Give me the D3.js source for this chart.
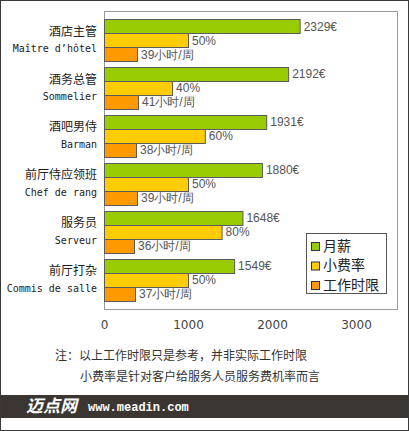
<!DOCTYPE html>
<html>
<head>
<meta charset="utf-8">
<script src="https://cdn.jsdelivr.net/npm/d3@7"></script>
<style>
    body { margin: 0; background: #ffffff; }
    svg { display: block; }
</style>
</head>
<body>
<div id="container"></div>
<script>
// chart data
var categoriesCn = ["酒店主管", "酒务总管", "酒吧男侍", "前厅侍应领班", "服务员", "前厅打杂"];
var categoriesFr = ["Maître d’hôtel", "Sommelier", "Barman", "Chef de rang", "Serveur", "Commis de salle"];
var salary = [2329, 2192, 1931, 1880, 1648, 1549];
var tipRate = [50, 40, 60, 50, 80, 50];
// length of the tip bars on the salary axis
var tipBar = [1000, 810, 1200, 1000, 1400, 1000];
var hours = [39, 41, 38, 39, 36, 37];
// length of the hour bars on the salary axis
var hoursBar = [393, 405, 381, 393, 357, 369];
var xTicks = [0, 1000, 2000, 3000];
var seriesNames = ["月薪", "小费率", "工作时限"];
var notes = ["注：以上工作时限只是参考，并非实际工作时限", "小费率是针对客户给服务人员服务费机率而言"];

// sizes
var canvasX = 409;
var canvasY = 431;
var plotLeft = 104;
var plotRight = 398;
var plotTop = 11;
var plotBottom = 309;
var colors = ["#99cc00", "#ffcc00", "#ff9900"];

var svg = d3.select("#container")
            .append("svg")
            .attr("width", canvasX)
            .attr("height", canvasY);

// outer frame
svg.append("rect")
   .attr("x", 0.5)
   .attr("y", 0.5)
   .attr("width", canvasX - 1)
   .attr("height", canvasY - 1)
   .attr("fill", "#ffffff")
   .attr("stroke", "#3a3a3a");

// scales
var xScaled = d3.scaleLinear()
                .domain([0, 3500])
                .range([plotLeft, plotRight]);

var yScaled = d3.scaleBand()
                .domain(d3.range(categoriesCn.length))
                .range([plotTop, plotBottom])
                .paddingInner(0.121)
                .paddingOuter(0.177);

var subScaled = d3.scaleBand()
                  .domain([0, 1, 2])
                  .range([0, yScaled.bandwidth()]);

// plot area box
svg.append("rect")
   .attr("x", plotLeft + 0.5)
   .attr("y", plotTop + 0.5)
   .attr("width", plotRight - plotLeft - 1)
   .attr("height", plotBottom - plotTop)
   .attr("fill", "none")
   .attr("stroke", "#9a9a9a");

// one row per series
var lengths = [salary, tipBar, hoursBar];
var labels = [
    salary.map(function(d) { return d + "€"; }),
    tipRate.map(function(d) { return d + "%"; }),
    hours.map(function(d) { return d + "小时/周"; })
];

lengths.forEach(function(series, s) {
    var g = svg.append("g").attr("class", "series" + s);

    g.selectAll("rect")
     .data(series)
     .enter()
     .append("rect")
     .attr("x", xScaled(0) + 0.5)
     .attr("y", function(d, i) { return Math.round(yScaled(i) + subScaled(s)) + 0.5; })
     .attr("width", function(d) { return xScaled(d) - xScaled(0); })
     .attr("height", subScaled.bandwidth())
     .attr("fill", colors[s])
     .attr("stroke", "#5a5a5a")
     .attr("stroke-width", 1);

    g.selectAll("text")
     .data(series)
     .enter()
     .append("text")
     .attr("x", function(d) { return xScaled(d) + 4; })
     .attr("y", function(d, i) { return yScaled(i) + subScaled(s) + subScaled.bandwidth() / 2 + 1; })
     .attr("dominant-baseline", "middle")
     .attr("font-family", "Liberation Sans, Arial, sans-serif")
     .attr("font-size", "12px")
     .attr("fill", "#555555")
     .text(function(d, i) { return labels[s][i]; });
});

// category labels
var catLabels = svg.append("g")
                   .selectAll("g")
                   .data(categoriesCn)
                   .enter()
                   .append("g")
                   .attr("transform", function(d, i) {
                       return "translate(97," + (yScaled(i) + yScaled.bandwidth() / 2) + ")";
                   });

catLabels.append("text")
         .attr("y", -8)
         .attr("dominant-baseline", "middle")
         .attr("text-anchor", "end")
         .attr("font-family", "Noto Sans CJK SC, sans-serif")
         .attr("font-size", "12px")
         .attr("fill", "#222222")
         .text(function(d) { return d; });

catLabels.append("text")
         .attr("y", 9)
         .attr("dominant-baseline", "middle")
         .attr("text-anchor", "end")
         .attr("font-family", "DejaVu Sans Mono, monospace")
         .attr("font-size", "10px")
         .attr("fill", "#222222")
         .text(function(d, i) { return categoriesFr[i]; });

// x axis, labels only
var xAxis = d3.axisBottom(xScaled)
              .tickValues(xTicks)
              .tickFormat(d3.format("d"))
              .tickSize(0)
              .tickPadding(11);

var axisG = svg.append("g")
               .attr("transform", "translate(0," + plotBottom + ")")
               .call(xAxis);
axisG.select(".domain").remove();
axisG.selectAll("text")
     .attr("font-family", "DejaVu Sans, sans-serif")
     .attr("font-size", "12px")
     .attr("fill", "#444444");

// legend
var legend = svg.append("g").attr("transform", "translate(306,233)");
legend.append("rect")
      .attr("x", 0.5)
      .attr("y", 0.5)
      .attr("width", 80)
      .attr("height", 60)
      .attr("fill", "#ffffff")
      .attr("stroke", "#555555");

var items = legend.selectAll(".legends")
                  .data(seriesNames)
                  .enter()
                  .append("g")
                  .attr("class", "legends")
                  .attr("transform", function(d, i) { return "translate(0," + (13 + i * 19.5) + ")"; });

items.append("rect")
     .attr("x", 5.5)
     .attr("y", -3.5)
     .attr("width", 8)
     .attr("height", 8)
     .attr("fill", function(d, i) { return colors[i]; })
     .attr("stroke", "#333333");

items.append("text")
     .attr("x", 17)
     .attr("y", 1)
     .attr("dominant-baseline", "middle")
     .attr("font-family", "Noto Sans CJK SC, sans-serif")
     .attr("font-size", "14px")
     .attr("fill", "#222222")
     .text(function(d) { return d; });

// notes under the chart
svg.selectAll(".note")
   .data(notes)
   .enter()
   .append("text")
   .attr("class", "note")
   .attr("x", function(d, i) { return i == 0 ? 55 : 80; })
   .attr("y", function(d, i) { return 357 + i * 21; })
   .attr("dominant-baseline", "middle")
   .attr("font-family", "Noto Sans CJK SC, sans-serif")
   .attr("font-size", "12px")
   .attr("fill", "#333333")
   .text(function(d) { return d; });

// footer band with site name
svg.append("rect")
   .attr("x", 1)
   .attr("y", 395)
   .attr("width", canvasX - 2)
   .attr("height", 23)
   .attr("fill", "#3b3631");

svg.append("text")
   .attr("x", 26)
   .attr("y", 407)
   .attr("dominant-baseline", "middle")
   .attr("font-family", "Noto Sans CJK SC, sans-serif")
   .attr("font-size", "17px")
   .attr("font-weight", "bold")
   .attr("font-style", "italic")
   .attr("fill", "#ffffff")
   .text("迈点网");

svg.append("text")
   .attr("x", 88)
   .attr("y", 408)
   .attr("dominant-baseline", "middle")
   .attr("font-family", "Liberation Mono, monospace")
   .attr("font-size", "12px")
   .attr("font-weight", "bold")
   .attr("fill", "#ffffff")
   .text("www.meadin.com");
</script>
</body>
</html>
